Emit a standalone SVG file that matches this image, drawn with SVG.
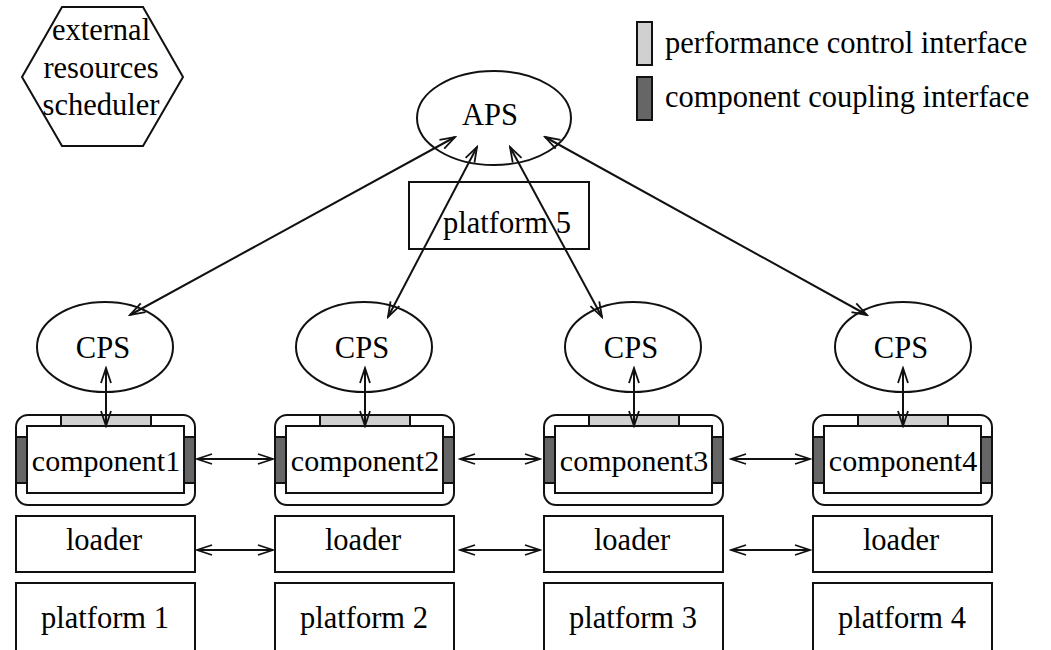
<svg xmlns="http://www.w3.org/2000/svg" width="1051" height="650" viewBox="0 0 1051 650" font-family="Liberation Serif, DejaVu Serif, serif" font-size="30.5">
<style>
text{fill:#000;text-anchor:middle}
.s{fill:none;stroke:#111;stroke-width:2}
.lt{fill:#d0d0d0;stroke:#111;stroke-width:2}
.dk{fill:#666;stroke:#111;stroke-width:2}
.cp{font-size:30px}
.c{fill:none;stroke:#111;stroke-width:2;marker-start:url(#arr);marker-end:url(#arr)}
</style>
<defs>
<marker id="arr" viewBox="-17 -7 19 14" refX="0" refY="0" markerWidth="19" markerHeight="14" markerUnits="userSpaceOnUse" orient="auto-start-reverse">
<path d="M-15,-5 L0,0 L-15,5" fill="none" stroke="#111" stroke-width="1.8"/>
</marker>
</defs>
<rect width="1051" height="650" fill="#fff"/>

<g id="scheduler">
<polygon class="s" points="62,7 143,7 183,77 143,146 62,146 22,77"/>
<text x="101" y="40">external</text>
<text x="101" y="78">resources</text>
<text x="101" y="115">scheduler</text>
</g>

<g id="legend">
<rect class="lt" x="637" y="22" width="15" height="43"/>
<text x="665" y="53" style="text-anchor:start">performance control interface</text>
<rect class="dk" x="637" y="77" width="15" height="43"/>
<text x="665" y="107" style="text-anchor:start">component coupling interface</text>
</g>

<g id="aps">
<ellipse class="s" cx="494" cy="118" rx="77" ry="47"/>
<text x="490" y="125">APS</text>
</g>

<g id="platform5">
<rect class="s" x="409" y="182" width="180" height="67"/>
<text x="507" y="233">platform 5</text>
</g>

<g id="cps1"><ellipse class="s" cx="105" cy="347" rx="68" ry="45"/><text x="103" y="358">CPS</text></g>
<g id="cps2"><ellipse class="s" cx="364" cy="347" rx="68" ry="45"/><text x="362" y="358">CPS</text></g>
<g id="cps3"><ellipse class="s" cx="633" cy="347" rx="68" ry="45"/><text x="631" y="358">CPS</text></g>
<g id="cps4"><ellipse class="s" cx="903" cy="347" rx="68" ry="45"/><text x="901" y="358">CPS</text></g>

<g id="component1">
<rect class="s" x="16" y="415" width="179" height="90" rx="12"/>
<rect class="lt" x="61" y="415" width="90" height="11"/>
<rect class="dk" x="16" y="437" width="11" height="46"/>
<rect class="dk" x="184" y="437" width="11" height="46"/>
<rect class="s" x="27" y="426" width="157" height="67"/>
<text class="cp" x="106" y="471">component1</text>
</g>
<g id="component2">
<rect class="s" x="275" y="415" width="179" height="90" rx="12"/>
<rect class="lt" x="320" y="415" width="90" height="11"/>
<rect class="dk" x="275" y="437" width="11" height="46"/>
<rect class="dk" x="443" y="437" width="11" height="46"/>
<rect class="s" x="286" y="426" width="157" height="67"/>
<text class="cp" x="365" y="471">component2</text>
</g>
<g id="component3">
<rect class="s" x="544" y="415" width="179" height="90" rx="12"/>
<rect class="lt" x="589" y="415" width="90" height="11"/>
<rect class="dk" x="544" y="437" width="11" height="46"/>
<rect class="dk" x="712" y="437" width="11" height="46"/>
<rect class="s" x="555" y="426" width="157" height="67"/>
<text class="cp" x="634" y="471">component3</text>
</g>
<g id="component4">
<rect class="s" x="813" y="415" width="179" height="90" rx="12"/>
<rect class="lt" x="858" y="415" width="90" height="11"/>
<rect class="dk" x="813" y="437" width="11" height="46"/>
<rect class="dk" x="981" y="437" width="11" height="46"/>
<rect class="s" x="824" y="426" width="157" height="67"/>
<text class="cp" x="903" y="471">component4</text>
</g>

<g id="loader1"><rect class="s" x="16" y="516" width="179" height="56"/><text x="104" y="550">loader</text></g>
<g id="loader2"><rect class="s" x="275" y="516" width="179" height="56"/><text x="363" y="550">loader</text></g>
<g id="loader3"><rect class="s" x="544" y="516" width="179" height="56"/><text x="632" y="550">loader</text></g>
<g id="loader4"><rect class="s" x="813" y="516" width="179" height="56"/><text x="901" y="550">loader</text></g>

<g id="platform1"><rect class="s" x="16" y="583" width="179" height="80"/><text x="105" y="628">platform 1</text></g>
<g id="platform2"><rect class="s" x="275" y="583" width="179" height="80"/><text x="364" y="628">platform 2</text></g>
<g id="platform3"><rect class="s" x="544" y="583" width="179" height="80"/><text x="633" y="628">platform 3</text></g>
<g id="platform4"><rect class="s" x="813" y="583" width="179" height="80"/><text x="902" y="628">platform 4</text></g>

<g id="connectors">
<line class="c" x1="455" y1="137" x2="130" y2="315"/>
<line class="c" x1="477" y1="147" x2="388" y2="317"/>
<line class="c" x1="510" y1="147" x2="602" y2="317"/>
<line class="c" x1="545" y1="137" x2="867" y2="315"/>
<line class="c" x1="106" y1="368" x2="106" y2="426"/>
<line class="c" x1="365" y1="368" x2="365" y2="426"/>
<line class="c" x1="634" y1="368" x2="634" y2="426"/>
<line class="c" x1="903" y1="368" x2="903" y2="426"/>
<line class="c" x1="197" y1="459" x2="273" y2="459"/>
<line class="c" x1="460" y1="459" x2="540" y2="459"/>
<line class="c" x1="731" y1="459" x2="810" y2="459"/>
<line class="c" x1="197" y1="550" x2="273" y2="550"/>
<line class="c" x1="460" y1="550" x2="540" y2="550"/>
<line class="c" x1="731" y1="550" x2="810" y2="550"/>
</g>
</svg>
